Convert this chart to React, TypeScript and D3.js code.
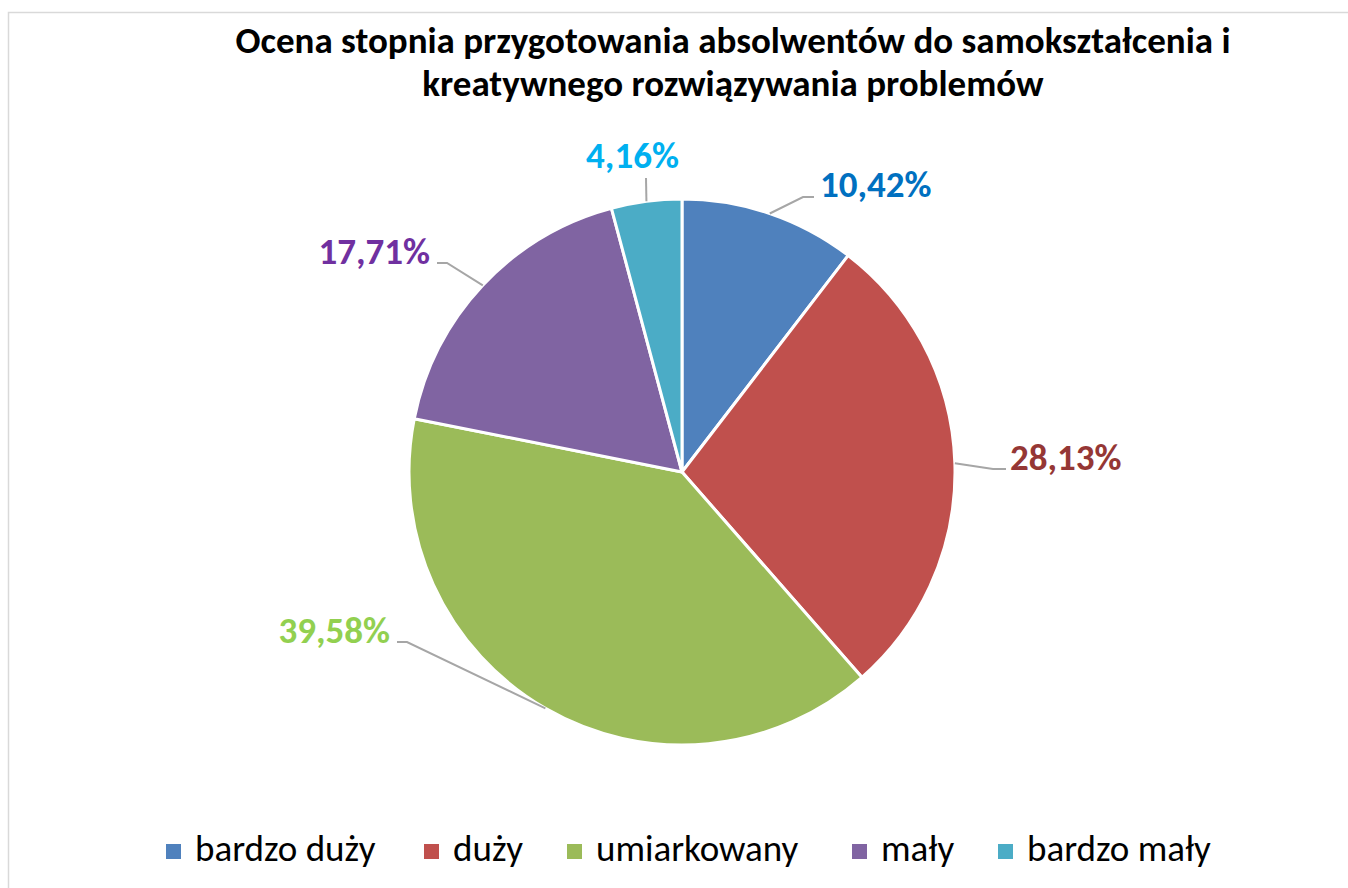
import React from "react";
import * as d3 from "d3";

const categories = ["bardzo duży", "duży", "umiarkowany", "mały", "bardzo mały"];
const values = [10.42, 28.13, 39.58, 17.71, 4.16];
const labels = ["10,42%", "28,13%", "39,58%", "17,71%", "4,16%"];
const sliceColors = ["#4F81BD", "#C0504D", "#9BBB59", "#8064A2", "#4BACC6"];
const labelColors = ["#0070C0", "#953735", "#92D050", "#7030A0", "#00B0F0"];
const titleLines = [
  "Ocena stopnia przygotowania absolwentów do samokształcenia i",
  "kreatywnego rozwiązywania problemów",
];

// layout (relative to pie centre): leader elbow, leader end, text anchor
const labelLayout = [
  { elbow: [121, -275], end: [132, -275], text: [138, -275], anchor: "start" },
  { elbow: [311, -3], end: [324, -3], text: [328, -2], anchor: "start" },
  { elbow: [-275, 170], end: [-285, 170], text: [-292, 171], anchor: "end" },
  { elbow: [-235, -209], end: [-245, -209], text: [-252, -208], anchor: "end" },
  { elbow: null, end: [-36, -294], text: [-49.5, -304], anchor: "middle" },
];
const legendX = [166, 424, 567, 852, 998];

const W = 1348;
const H = 888;
const cx = 682;
const cy = 472;
const R = 273;
const FONT = "Carlito, Calibri, Lato, sans-serif";
const FS = 37;

export default function App() {
  const pie = d3.pie<number>().sort(null).startAngle(0).endAngle(2 * Math.PI);
  const arcs = pie(values);
  const arc = d3.arc<d3.PieArcDatum<number>>().innerRadius(0).outerRadius(R);

  return (
    <svg
      width={W}
      height={H}
      style={{ position: "absolute", left: 0, top: 0, background: "#fff" }}
    >
      <rect x={8.5} y={12.5} width={1500} height={1000} fill="#fff" stroke="#D9D9D9" strokeWidth={1.5} />
      {titleLines.map((t, i) => (
        <text
          key={i}
          x={733}
          y={53 + i * 43}
          textAnchor="middle"
          fontFamily={FONT}
          fontWeight={700}
          fontSize={FS}
          fill="#000"
        >
          {t}
        </text>
      ))}
      <g transform={`translate(${cx},${cy})`}>
        {arcs.map((a, i) => (
          <path key={i} d={arc(a) || ""} fill={sliceColors[i]} stroke="#fff" strokeWidth={3} strokeLinejoin="round" />
        ))}
        {arcs.map((a, i) => {
          const mid = (a.startAngle + a.endAngle) / 2;
          const ex = R * Math.sin(mid);
          const ey = -R * Math.cos(mid);
          const L = labelLayout[i];
          const pts: [number, number][] = [[ex, ey]];
          if (L.elbow) pts.push(L.elbow as [number, number]);
          pts.push(L.end as [number, number]);
          return (
            <g key={i}>
              <path d={d3.line()(pts) || ""} fill="none" stroke="#A6A6A6" strokeWidth={2} />
              <text
                x={L.text[0]}
                y={L.text[1]}
                textAnchor={L.anchor as any}
                fontFamily={FONT}
                fontWeight={700}
                fontSize={FS}
                fill={labelColors[i]}
              >
                {labels[i]}
              </text>
            </g>
          );
        })}
      </g>
      {categories.map((c, i) => (
        <g key={c}>
          <rect x={legendX[i]} y={844} width={15} height={15} fill={sliceColors[i]} />
          <text x={legendX[i] + 29} y={861} fontFamily={FONT} fontSize={FS} fill="#000">
            {c}
          </text>
        </g>
      ))}
    </svg>
  );
}
